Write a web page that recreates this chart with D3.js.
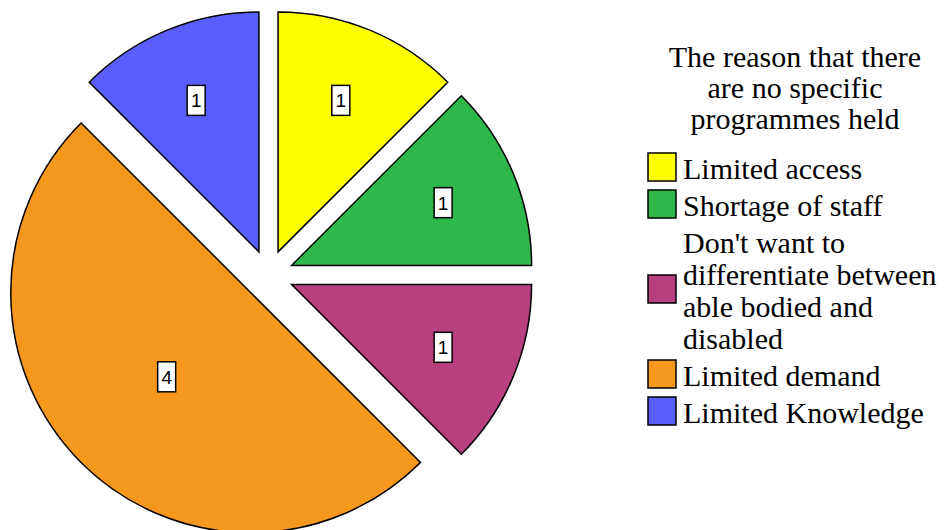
<!DOCTYPE html>
<html>
<head>
<meta charset="utf-8">
<script src="https://cdn.jsdelivr.net/npm/d3@7"></script>
</head>
<body style="margin:0">
<svg id="s" width="947" height="530" style="display:block"></svg>
<script>
const categories = [
  "Limited access",
  "Shortage of staff",
  "Don't want to differentiate between able bodied and disabled",
  "Limited demand",
  "Limited Knowledge"
];
const legendLines = [
  ["Limited access"],
  ["Shortage of staff"],
  ["Don't want to", "differentiate between", "able bodied and", "disabled"],
  ["Limited demand"],
  ["Limited Knowledge"]
];
const values = [1, 1, 1, 4, 1];
const colors = ["#FFFF00", "#2EB84B", "#B8407E", "#F7981E", "#5B5EFF"];
const titleLines = ["The reason that there", "are no specific", "programmes held"];

const svg = d3.select("#s");

// text first (legend), then pie
const serifFam = '"Liberation Serif", "Times New Roman", Tinos, serif';
const sansFam = '"Liberation Sans", Arial, sans-serif';

const legendG = svg.append("g")
  .attr("font-family", serifFam)
  .style("font-family", serifFam)
  .style("font-size", "30px");

titleLines.forEach((t, i) => {
  legendG.append("text")
    .attr("x", 795).attr("y", 67 + i * 31)
    .attr("text-anchor", "middle")
    .text(t);
});

const lineH = 32, gap = 5, sw = 28;
let yTop = 153;
legendLines.forEach((lines, i) => {
  const h = lines.length * lineH;
  const sy = lines.length === 1 ? yTop : yTop + (h - 4) / 2 - sw / 2;
  legendG.append("rect")
    .attr("x", 648).attr("y", sy).attr("width", sw).attr("height", sw)
    .attr("fill", colors[i]).attr("stroke", "#000").attr("stroke-width", 1.5);
  lines.forEach((ln, j) => {
    legendG.append("text")
      .attr("x", 683).attr("y", yTop + 26 + j * lineH)
      .text(ln);
  });
  yTop += h + gap;
});

const cx = 268.5, cy = 275, R = 240, explode = 25;
const pie = d3.pie().sort(null).value(d => d.value).startAngle(0).endAngle(2 * Math.PI);
const data = categories.map((c, i) => ({ name: c, value: values[i], color: colors[i] }));
const arcs = pie(data);
const arc = d3.arc().innerRadius(0).outerRadius(R);

const g = svg.append("g").attr("transform", `translate(${cx},${cy})`);

const slices = g.selectAll("g.slice").data(arcs).join("g")
  .attr("class", "slice")
  .attr("transform", d => {
    const a = (d.startAngle + d.endAngle) / 2;
    return `translate(${Math.sin(a) * explode},${-Math.cos(a) * explode})`;
  });

slices.append("path")
  .attr("d", arc)
  .attr("fill", d => d.data.color)
  .attr("stroke", "#000")
  .attr("stroke-width", 1.5);

const labels = g.selectAll("g.lbl").data(arcs).join("g")
  .attr("class", "lbl")
  .attr("transform", d => {
    const a = (d.startAngle + d.endAngle) / 2;
    const span = d.endAngle - d.startAngle;
    const rr = span > Math.PI / 2 ? 144 : 189;
    return `translate(${Math.sin(a) * rr},${-Math.cos(a) * rr})`;
  });
labels.append("rect")
  .attr("x", -9).attr("y", -15).attr("width", 18).attr("height", 30)
  .attr("fill", "#fff").attr("stroke", "#000").attr("stroke-width", 1.5);
labels.append("text")
  .attr("font-family", sansFam)
  .style("font-family", sansFam)
  .style("font-size", "19px")
  .attr("text-anchor", "middle")
  .attr("y", 7)
  .text(d => d.data.value);
</script>
</body>
</html>
